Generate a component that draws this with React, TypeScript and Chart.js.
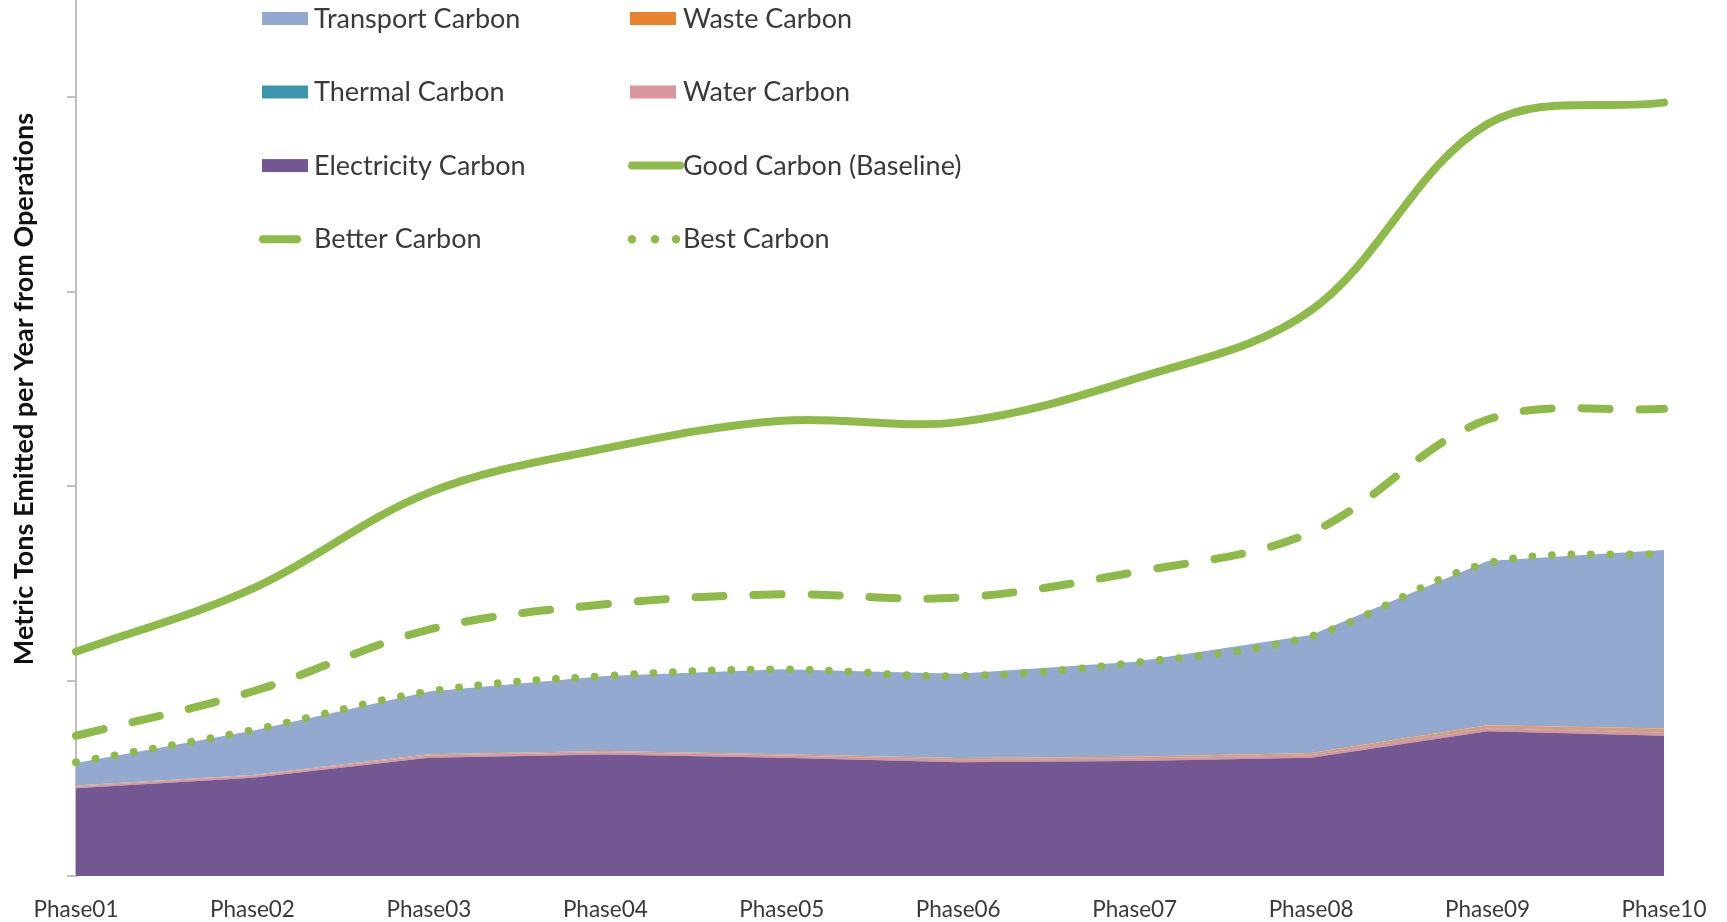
import { useEffect, useRef } from 'react';
import { Chart, registerables } from 'chart.js';

Chart.register(...registerables);

// ---- data ----
const phases = ['Phase01', 'Phase02', 'Phase03', 'Phase04', 'Phase05', 'Phase06', 'Phase07', 'Phase08', 'Phase09', 'Phase10'];
const electricityCarbon = [0.45, 0.505, 0.607, 0.624, 0.607, 0.584, 0.59, 0.607, 0.743, 0.72];
const waterCarbon = [0.009, 0.009, 0.011, 0.011, 0.011, 0.013, 0.013, 0.013, 0.016, 0.017];
const thermalCarbon = [0.002, 0.002, 0.002, 0.002, 0.002, 0.002, 0.002, 0.002, 0.002, 0.002];
const wasteCarbon = [0.003, 0.003, 0.005, 0.005, 0.005, 0.007, 0.007, 0.009, 0.013, 0.018];
const transportCarbon = [0.116, 0.226, 0.322, 0.385, 0.436, 0.432, 0.488, 0.606, 0.843, 0.916];
const goodCarbon = [1.151, 1.475, 1.968, 2.195, 2.337, 2.33, 2.552, 2.904, 3.86, 3.97];
const betterCarbon = [0.72, 0.947, 1.265, 1.395, 1.446, 1.429, 1.56, 1.764, 2.343, 2.399];
const bestCarbon = [0.584, 0.749, 0.947, 1.027, 1.061, 1.027, 1.095, 1.231, 1.605, 1.656];
const yMin = 0;
const yMax = 5;
const yStep = 1;

// ---- styles ----
const GREEN = '#8EBA4A';
const C_ELEC = '#725792';
const C_THERMAL = '#3B95AE';
const C_WATER = '#D9959A';
const C_WASTE = '#E8822E';
const C_WASTE_AREA = '#E39A6A';
const C_TRANSPORT = '#93A9D0';
const TEXT = '#3A3A3A';
const OFFSET = 98; // canvas is shifted up; top of the plot is cropped like the reference
const W = 1727;
const H = 922 + OFFSET;

type LegendEntry = { label: string; kind: 'box' | 'solid' | 'dash' | 'dot'; color: string; col: number; row: number };
const legendEntries: LegendEntry[] = [
  { label: 'Transport Carbon', kind: 'box', color: C_TRANSPORT, col: 0, row: 0 },
  { label: 'Waste Carbon', kind: 'box', color: C_WASTE, col: 1, row: 0 },
  { label: 'Thermal Carbon', kind: 'box', color: C_THERMAL, col: 0, row: 1 },
  { label: 'Water Carbon', kind: 'box', color: C_WATER, col: 1, row: 1 },
  { label: 'Electricity Carbon', kind: 'box', color: C_ELEC, col: 0, row: 2 },
  { label: 'Good Carbon (Baseline)', kind: 'solid', color: GREEN, col: 1, row: 2 },
  { label: 'Better Carbon', kind: 'dash', color: GREEN, col: 0, row: 3 },
  { label: 'Best Carbon', kind: 'dot', color: GREEN, col: 1, row: 3 },
];

const legendPlugin = {
  id: 'gridLegend',
  afterDraw(chart: any) {
    const ctx: CanvasRenderingContext2D = chart.ctx;
    ctx.save();
    const rowCenters = [18.5, 92, 165.6, 239.2];
    const colSwatchX = [262, 630];
    const colTextX = [314, 683];
    ctx.font = '27px Lato';
    ctx.textBaseline = 'alphabetic';
    ctx.textAlign = 'left';
    for (const e of legendEntries) {
      const cy = rowCenters[e.row] + OFFSET;
      const sx = colSwatchX[e.col];
      if (e.kind === 'box') {
        ctx.fillStyle = e.color;
        ctx.fillRect(sx, cy - 6.5, 46, 13);
      } else if (e.kind === 'solid') {
        ctx.strokeStyle = e.color;
        ctx.lineWidth = 8;
        ctx.lineCap = 'round';
        ctx.beginPath();
        ctx.moveTo(sx + 2, cy);
        ctx.lineTo(sx + 50, cy);
        ctx.stroke();
      } else if (e.kind === 'dash') {
        ctx.strokeStyle = e.color;
        ctx.lineWidth = 8;
        ctx.lineCap = 'round';
        ctx.beginPath();
        ctx.moveTo(sx + 1, cy);
        ctx.lineTo(sx + 35, cy);
        ctx.stroke();
      } else {
        ctx.fillStyle = e.color;
        for (const dx of [0, 23, 44]) {
          ctx.beginPath();
          ctx.arc(sx + dx + 2, cy, 4.2, 0, Math.PI * 2);
          ctx.fill();
        }
      }
      ctx.fillStyle = TEXT;
      ctx.fillText(e.label, colTextX[e.col], cy + 9);
    }
    ctx.restore();
  },
};

export default function App() {
  const ref = useRef<HTMLCanvasElement | null>(null);

  useEffect(() => {
    document.body.style.margin = '0';
    const canvas = ref.current;
    if (!canvas) return;
    const area = (label: string, data: number[], color: string, fill: string) => ({
      label,
      data,
      stack: 'areas',
      fill,
      backgroundColor: color,
      borderColor: color,
      borderWidth: 0,
      pointRadius: 0,
      tension: 0,
      order: 1,
    });
    const line = (label: string, data: number[], stack: string, dash: number[], width: number) => ({
      label,
      data,
      stack,
      fill: false,
      borderColor: GREEN,
      backgroundColor: GREEN,
      borderWidth: width,
      borderDash: dash,
      borderCapStyle: 'round',
      borderJoinStyle: 'round',
      pointRadius: 0,
      tension: 0.35,
      order: 0,
    });

    const chart = new Chart(canvas, {
      type: 'line',
      data: {
        labels: phases,
        datasets: [
          area('Electricity Carbon', electricityCarbon, C_ELEC, 'origin'),
          area('Water Carbon', waterCarbon, C_WATER, '-1'),
          area('Thermal Carbon', thermalCarbon, C_THERMAL, '-1'),
          area('Waste Carbon', wasteCarbon, C_WASTE_AREA, '-1'),
          area('Transport Carbon', transportCarbon, C_TRANSPORT, '-1'),
          line('Good Carbon (Baseline)', goodCarbon, 'good', [], 8),
          line('Better Carbon', betterCarbon, 'better', [28, 30], 8),
          line('Best Carbon', bestCarbon, 'best', [0.01, 19.5], 7.8),
        ] as any,
      },
      options: {
        animation: false,
        responsive: false,
        devicePixelRatio: 1,
        layout: { padding: { left: 0, right: 63, top: 0, bottom: 0 } },
        plugins: {
          legend: { display: false },
          tooltip: { enabled: false },
          title: { display: false },
          filler: { propagate: false },
        },
        scales: {
          x: {
            type: 'category',
            offset: false,
            grid: { display: false, drawTicks: false },
            border: { display: false },
            ticks: {
              color: TEXT,
              font: { family: 'Lato', size: 22.5 },
              padding: 20,
              maxRotation: 0,
              autoSkip: false,
            },
            afterFit: (s: any) => {
              s.height = 46;
            },
          },
          y: {
            stacked: true,
            min: yMin,
            max: yMax,
            grid: {
              drawOnChartArea: false,
              drawTicks: true,
              tickLength: 9,
              color: '#BFBFBF',
              lineWidth: 2,
            },
            border: { display: true, color: '#BFBFBF', width: 2 },
            ticks: { display: false, stepSize: yStep },
            title: {
              display: true,
              text: 'Metric Tons Emitted per Year from Operations',
              color: '#111111',
              font: { family: 'Lato', size: 27, weight: 'bold' },
              padding: { top: 8, bottom: 0 },
            },
            afterFit: (s: any) => {
              s.width = 76;
            },
          },
        },
      } as any,
      plugins: [legendPlugin],
    });
    return () => chart.destroy();
  }, []);

  return (
    <div style={{ position: 'absolute', left: 0, top: -OFFSET, width: W, height: H }}>
      <canvas ref={ref} width={W} height={H} style={{ width: W, height: H, display: 'block' }} />
    </div>
  );
}
